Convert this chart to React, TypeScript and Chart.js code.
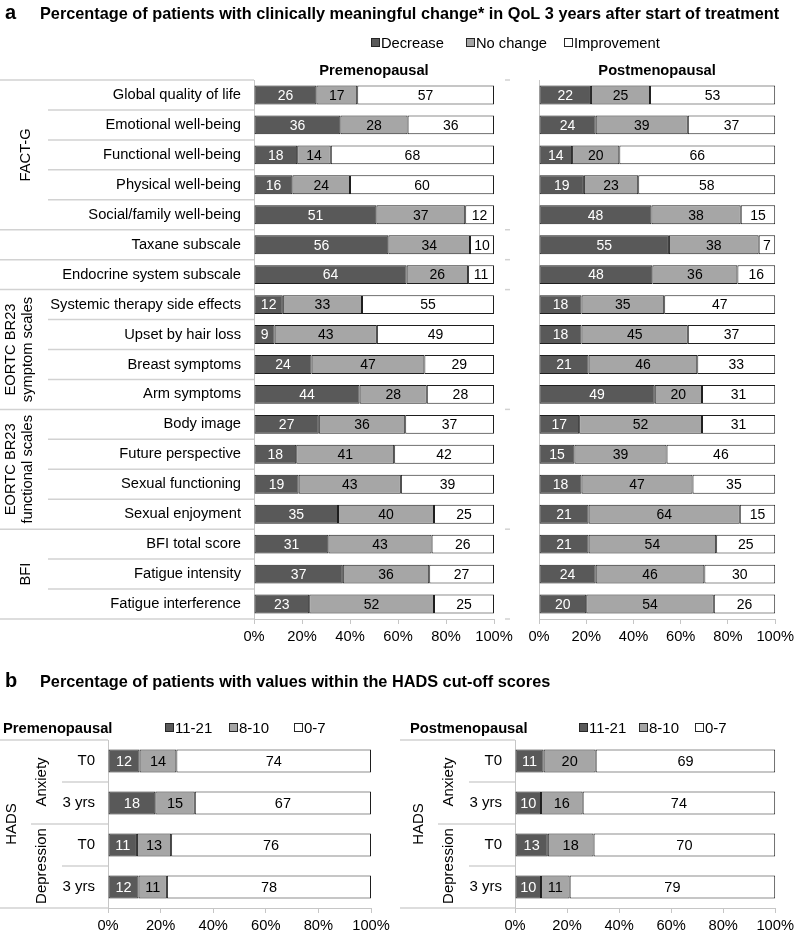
import React, { useEffect, useRef } from "react";
import { Chart, registerables } from "chart.js";

Chart.register(...registerables);

const FONT = "'Liberation Sans', Arial, Helvetica, sans-serif";

// ---------- Panel a data ----------
const categoriesA = [
  "Global quality of life",
  "Emotional well-being",
  "Functional well-being",
  "Physical well-being",
  "Social/family well-being",
  "Taxane subscale",
  "Endocrine system subscale",
  "Systemic therapy side effects",
  "Upset by hair loss",
  "Breast symptoms",
  "Arm symptoms",
  "Body image",
  "Future perspective",
  "Sexual functioning",
  "Sexual enjoyment",
  "BFI total score",
  "Fatigue intensity",
  "Fatigue interference",
];
const seriesNamesA = ["Decrease", "No change", "Improvement"];
const preDecrease = [26, 36, 18, 16, 51, 56, 63.6, 12, 8.6, 24, 44, 27, 17.6, 18.6, 35, 31, 37, 23];
const preNoChange = [17, 28, 14, 24, 37, 34, 25.6, 33, 42.6, 47, 28, 36, 40.8, 42.6, 40, 43, 36, 52];
const preImprovement = [57, 36, 68, 60, 12, 10, 10.8, 55, 48.8, 29, 28, 37, 41.6, 38.8, 25, 26, 27, 25];
const postDecrease = [22, 24, 14, 19, 47.6, 55, 48, 18, 18, 21, 49, 17, 15, 18, 21, 21, 24, 20];
const postNoChange = [25, 39, 20, 23, 37.8, 38, 36, 35, 45, 46, 20, 52, 39, 47, 64, 54, 46, 54];
const postImprovement = [53, 37, 66, 58, 14.6, 7, 16, 47, 37, 33, 31, 31, 46, 35, 15, 25, 30, 26];
const groupSpansA: [number, number][] = [[0, 5], [5, 6], [6, 7], [7, 11], [11, 15], [15, 18]];
const groupLabelsA: string[][] = [["FACT-G"], [], [], ["EORTC BR23", "symptom scales"], ["EORTC BR23", "functional scales"], ["BFI"]];

// ---------- Panel b data ----------
const categoriesB = ["T0", "3 yrs", "T0", "3 yrs"];
const seriesNamesB = ["11-21", "8-10", "0-7"];
const preHigh = [12, 18, 11, 11.6];
const preMid = [14, 15, 13, 10.8];
const preLow = [74, 67, 76, 77.6];
const postHigh = [11, 10, 12.6, 10];
const postMid = [20, 16, 17.6, 11];
const postLow = [69, 74, 69.8, 79];
const groupSpansB: [number, number][] = [[0, 2], [2, 4]];
const groupLabelsB = ["Anxiety", "Depression"];
const outerLabelB = "HADS";

const titleA = "Percentage of patients with clinically meaningful change* in QoL 3 years after start of treatment";
const titleB = "Percentage of patients with values within the HADS cut-off scores";
const xTicks = [0, 20, 40, 60, 80, 100];

const COLORS = ["#595959", "#a6a6a6", "#ffffff"];
const LABEL_COLORS = ["#ffffff", "#000000", "#000000"];
const GRID = "#c6c6c6";
const SEP = "#d2d2d2";

function rotText(ctx: CanvasRenderingContext2D, text: string, x: number, y: number) {
  ctx.save();
  ctx.translate(x, y);
  ctx.rotate(-Math.PI / 2);
  ctx.textAlign = "center";
  ctx.textBaseline = "middle";
  ctx.fillText(text, 0, 0);
  ctx.restore();
}

function hline(ctx: CanvasRenderingContext2D, x1: number, x2: number, y: number) {
  ctx.beginPath();
  ctx.moveTo(x1, y);
  ctx.lineTo(x2, y);
  ctx.stroke();
}

function drawLegend(ctx: CanvasRenderingContext2D, names: string[], xs: number[], baseline: number, size: number) {
  ctx.save();
  ctx.font = `${size}px ${FONT}`;
  ctx.textAlign = "left";
  ctx.textBaseline = "alphabetic";
  names.forEach((n, i) => {
    const bx = xs[i];
    ctx.fillStyle = COLORS[i];
    ctx.fillRect(bx + 0.5, baseline - 9.5, 8, 8);
    ctx.strokeStyle = "#262626";
    ctx.lineWidth = 1;
    ctx.strokeRect(bx + 0.5, baseline - 9.5, 8, 8);
    ctx.fillStyle = "#000";
    ctx.fillText(n, bx + 10, baseline);
  });
  ctx.restore();
}

const dataLabelPlugin = {
  id: "dataLabels",
  afterDatasetsDraw(chart: any) {
    const ctx = chart.ctx as CanvasRenderingContext2D;
    const size = chart.options.plugins.dataLabels?.size ?? 14;
    ctx.save();
    ctx.font = `${size}px ${FONT}`;
    ctx.textAlign = "center";
    ctx.textBaseline = "middle";
    chart.data.datasets.forEach((ds: any, di: number) => {
      const meta = chart.getDatasetMeta(di);
      meta.data.forEach((el: any, i: number) => {
        const v = ds.data[i];
        const cx = (el.x + el.base) / 2;
        ctx.fillStyle = LABEL_COLORS[di];
        ctx.fillText(String(Math.round(v)), cx, el.y + 1);
      });
    });
    ctx.restore();
  },
};

function makeDatasets(names: string[], series: number[][], barPct: number) {
  return series.map((d, i) => ({
    label: names[i],
    data: d,
    backgroundColor: COLORS[i],
    borderColor: "#1e1e1e",
    borderWidth: 1,
    borderSkipped: false,
    categoryPercentage: 1,
    barPercentage: barPct,
  }));
}

function makeConfig(p: {
  labels: string[];
  names: string[];
  series: number[][];
  barPct: number;
  showY: boolean;
  yWidth: number;
  xHeight: number;
  padTop: number;
  padRight: number;
  yFont: number;
  labelSize: number;
  yPad: number;
  extra: any;
}) {
  return {
    type: "bar",
    data: { labels: p.labels, datasets: makeDatasets(p.names, p.series, p.barPct) },
    options: {
      responsive: false,
      animation: false,
      indexAxis: "y",
      layout: { padding: { top: p.padTop, right: p.padRight, left: 0, bottom: 0 } },
      plugins: {
        legend: { display: false },
        tooltip: { enabled: false },
        title: { display: false },
        dataLabels: { size: p.labelSize },
      },
      scales: {
        x: {
          stacked: true,
          min: 0,
          max: 100,
          afterBuildTicks: (s: any) => {
            s.ticks = xTicks.map((v) => ({ value: v }));
          },
          ticks: {
            callback: (v: any) => v + "%",
            font: { family: FONT, size: 14.7 },
            color: "#000",
            padding: 4,
            maxRotation: 0,
            autoSkip: false,
          },
          grid: { display: true, drawOnChartArea: false, drawTicks: true, tickLength: 5, color: GRID, lineWidth: 1 },
          border: { display: true, color: GRID, width: 1 },
          afterFit: (s: any) => {
            s.height = p.xHeight;
          },
        },
        y: {
          stacked: true,
          ticks: {
            display: p.showY,
            autoSkip: false,
            font: { family: FONT, size: p.yFont },
            color: "#000",
            padding: p.yPad,
          },
          grid: { display: false, drawTicks: false, tickLength: 0 },
          border: { display: true, color: GRID, width: 1 },
          afterFit: (s: any) => {
            s.width = p.yWidth;
          },
        },
      },
    },
    plugins: [dataLabelPlugin, p.extra],
  };
}

// ---------- decoration plugins ----------
const panelALeftDeco = {
  id: "panelALeftDeco",
  afterDraw(chart: any) {
    const ctx = chart.ctx as CanvasRenderingContext2D;
    const ca = chart.chartArea;
    const y = chart.scales.y;
    ctx.save();
    ctx.fillStyle = "#000";
    ctx.textBaseline = "alphabetic";
    ctx.textAlign = "left";
    ctx.font = `bold 20px ${FONT}`;
    ctx.fillText("a", 5, 19);
    ctx.font = `bold 16.3px ${FONT}`;
    ctx.fillText(titleA, 40, 19);
    drawLegend(ctx, seriesNamesA, [371, 466, 564], 48, 14.7);
    ctx.font = `bold 14.7px ${FONT}`;
    ctx.textAlign = "center";
    ctx.fillStyle = "#000";
    ctx.fillText("Premenopausal", (ca.left + ca.right) / 2, 74.5);
    ctx.strokeStyle = SEP;
    ctx.lineWidth = 1.5;
    const bounds = new Set<number>();
    groupSpansA.forEach(([a, b]) => {
      bounds.add(a);
      bounds.add(b);
    });
    for (let i = 0; i <= categoriesA.length; i++) {
      const yy = y.getPixelForValue(i - 0.5);
      hline(ctx, bounds.has(i) ? 0 : 48, ca.left, yy);
    }
    ctx.fillStyle = "#000";
    ctx.font = `14.7px ${FONT}`;
    groupSpansA.forEach(([a, b], gi) => {
      const lines = groupLabelsA[gi];
      if (!lines.length) return;
      const cy = (y.getPixelForValue(a - 0.5) + y.getPixelForValue(b - 0.5)) / 2;
      if (lines.length === 1) rotText(ctx, lines[0], 26, cy);
      else {
        rotText(ctx, lines[0], 11, cy);
        rotText(ctx, lines[1], 28, cy);
      }
    });
    ctx.restore();
  },
};

const panelARightDeco = {
  id: "panelARightDeco",
  afterDraw(chart: any) {
    const ctx = chart.ctx as CanvasRenderingContext2D;
    const ca = chart.chartArea;
    const y = chart.scales.y;
    ctx.save();
    ctx.fillStyle = "#000";
    ctx.font = `bold 14.7px ${FONT}`;
    ctx.textAlign = "center";
    ctx.textBaseline = "alphabetic";
    ctx.fillText("Postmenopausal", (ca.left + ca.right) / 2, 74.5);
    ctx.strokeStyle = SEP;
    ctx.lineWidth = 1.5;
    const bounds = new Set<number>();
    groupSpansA.forEach(([a, b]) => {
      bounds.add(a);
      bounds.add(b);
    });
    bounds.forEach((i) => {
      const yy = y.getPixelForValue(i - 0.5);
      hline(ctx, 5, 10, yy);
    });
    ctx.restore();
  },
};

function makePanelBDeco(heading: string, legendXs: number[], withTitle: boolean) {
  return {
    id: "panelBDeco",
    afterDraw(chart: any) {
      const ctx = chart.ctx as CanvasRenderingContext2D;
      const ca = chart.chartArea;
      const y = chart.scales.y;
      ctx.save();
      ctx.fillStyle = "#000";
      ctx.textBaseline = "alphabetic";
      ctx.textAlign = "left";
      if (withTitle) {
        ctx.font = `bold 20px ${FONT}`;
        ctx.fillText("b", 5, 37);
        ctx.font = `bold 16.3px ${FONT}`;
        ctx.fillText(titleB, 40, 37);
      }
      ctx.font = `bold 14.7px ${FONT}`;
      ctx.fillText(heading, ca.left - 105, 83);
      drawLegend(ctx, seriesNamesB, legendXs, 83, 15);
      ctx.strokeStyle = SEP;
      ctx.lineWidth = 1.5;
      const n = categoriesB.length;
      for (let i = 0; i <= n; i++) {
        const yy = y.getPixelForValue(i - 0.5);
        let start = ca.left - 46;
        if (i === 0 || i === n) start = 0;
        else if (groupSpansB.some(([a]) => a === i)) start = ca.left - 77;
        hline(ctx, start, ca.left, yy);
      }
      ctx.font = `15px ${FONT}`;
      ctx.fillStyle = "#000";
      groupSpansB.forEach(([a, b], gi) => {
        const cy = (y.getPixelForValue(a - 0.5) + y.getPixelForValue(b - 0.5)) / 2;
        rotText(ctx, groupLabelsB[gi], ca.left - 66, cy);
      });
      const cyAll = (y.getPixelForValue(-0.5) + y.getPixelForValue(n - 0.5)) / 2;
      rotText(ctx, outerLabelB, ca.left - 96, cyAll);
      ctx.restore();
    },
  };
}

function ChartBox(props: { left: number; top: number; width: number; height: number; config: any }) {
  const ref = useRef<HTMLCanvasElement>(null);
  useEffect(() => {
    if (!ref.current) return;
    const chart = new Chart(ref.current, props.config);
    return () => chart.destroy();
  }, []);
  return (
    <canvas
      ref={ref}
      width={props.width}
      height={props.height}
      style={{
        position: "absolute",
        left: props.left,
        top: props.top,
        width: props.width,
        height: props.height,
        pointerEvents: "none",
      }}
    />
  );
}

export default function App() {
  const aLeft = makeConfig({
    labels: categoriesA,
    names: seriesNamesA,
    series: [preDecrease, preNoChange, preImprovement],
    barPct: 0.63,
    showY: true,
    yWidth: 254,
    xHeight: 31,
    padTop: 80,
    padRight: 798 - 494,
    yFont: 14.7,
    labelSize: 14,
    yPad: 13,
    extra: panelALeftDeco,
  });
  const aRight = makeConfig({
    labels: categoriesA,
    names: seriesNamesA,
    series: [postDecrease, postNoChange, postImprovement],
    barPct: 0.63,
    showY: false,
    yWidth: 39,
    xHeight: 31,
    padTop: 80,
    padRight: 21,
    yFont: 14.7,
    labelSize: 14,
    yPad: 13,
    extra: panelARightDeco,
  });
  const bLeft = makeConfig({
    labels: categoriesB,
    names: seriesNamesB,
    series: [preHigh, preMid, preLow],
    barPct: 0.55,
    showY: true,
    yWidth: 108,
    xHeight: 27,
    padTop: 90,
    padRight: 798 - 371,
    yFont: 15,
    labelSize: 14.5,
    yPad: 13,
    extra: makePanelBDeco("Premenopausal", [165, 229, 294], true),
  });
  const bRight = makeConfig({
    labels: categoriesB,
    names: seriesNamesB,
    series: [postHigh, postMid, postLow],
    barPct: 0.55,
    showY: true,
    yWidth: 115,
    xHeight: 27,
    padTop: 90,
    padRight: 20,
    yFont: 15,
    labelSize: 14.5,
    yPad: 13,
    extra: makePanelBDeco("Postmenopausal", [179, 239, 295], false),
  });
  return (
    <div style={{ position: "absolute", left: 0, top: 0, width: 798, height: 935, background: "#fff" }}>
      <ChartBox left={0} top={0} width={798} height={650} config={aLeft} />
      <ChartBox left={500} top={0} width={298} height={650} config={aRight} />
      <ChartBox left={0} top={650} width={798} height={285} config={bLeft} />
      <ChartBox left={400} top={650} width={398} height={285} config={bRight} />
    </div>
  );
}
